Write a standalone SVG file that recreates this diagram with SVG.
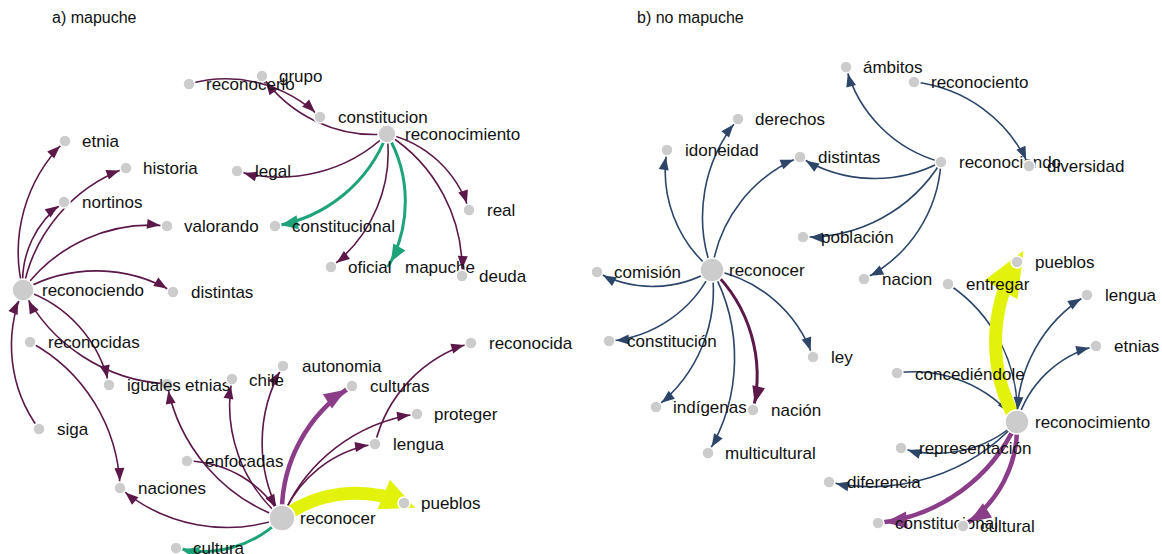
<svg xmlns="http://www.w3.org/2000/svg" width="1162" height="554" viewBox="0 0 1162 554">
  <style>
    .title { font-family: "Liberation Sans", Arial, sans-serif; font-size: 16px; fill: #111; }
    .n circle { fill: #cccccc; stroke: #ffffff; stroke-width: 1.5; }
    .n text { font-family: "Liberation Sans", Arial, sans-serif; font-size: 17px; fill: #111111; }
    .links path { fill: none; }
    .pt { stroke: #5b1849; stroke-width: 1.6; }
    .bt { stroke: #2c4569; stroke-width: 1.6; }
    .gr { stroke: #1fa37b; stroke-width: 3; }
    .pk { stroke: #8b3d8a; stroke-width: 4.5; }
    .pm { stroke: #5b1849; stroke-width: 3; }
    .ye { stroke: #e3f20b; stroke-width: 13; }
  </style>
  <defs>
    <marker id="m-pt" markerUnits="userSpaceOnUse" markerWidth="14" markerHeight="12" refX="20" refY="0" orient="auto" overflow="visible"><path d="M0,-5L13,0L0,5Z" fill="#5b1849"/></marker>
    <marker id="m-ptb" markerUnits="userSpaceOnUse" markerWidth="14" markerHeight="12" refX="25" refY="0" orient="auto" overflow="visible"><path d="M0,-5L13,0L0,5Z" fill="#5b1849"/></marker>
    <marker id="m-bt" markerUnits="userSpaceOnUse" markerWidth="14" markerHeight="12" refX="20" refY="0" orient="auto" overflow="visible"><path d="M0,-5L13,0L0,5Z" fill="#2c4569"/></marker>
    <marker id="m-btb" markerUnits="userSpaceOnUse" markerWidth="14" markerHeight="12" refX="25" refY="0" orient="auto" overflow="visible"><path d="M0,-5L13,0L0,5Z" fill="#2c4569"/></marker>
    <marker id="m-gr" markerUnits="userSpaceOnUse" markerWidth="18" markerHeight="16" refX="23" refY="0" orient="auto" overflow="visible"><path d="M0,-7L17,0L0,7Z" fill="#1fa37b"/></marker>
    <marker id="m-pk" markerUnits="userSpaceOnUse" markerWidth="22" markerHeight="18" refX="29" refY="0" orient="auto" overflow="visible"><path d="M0,-8.5L22,0L0,8.5Z" fill="#8b3d8a"/></marker>
    <marker id="m-pm" markerUnits="userSpaceOnUse" markerWidth="18" markerHeight="14" refX="24" refY="0" orient="auto" overflow="visible"><path d="M0,-6.5L17,0L0,6.5Z" fill="#5b1849"/></marker>
    <marker id="m-ye" markerUnits="userSpaceOnUse" markerWidth="34" markerHeight="32" refX="22" refY="0" orient="auto" overflow="visible"><path d="M0,-16L34,0L0,16Z" fill="#e3f20b"/></marker>
    <marker id="m-yeb" markerUnits="userSpaceOnUse" markerWidth="46" markerHeight="40" refX="32" refY="0" orient="auto" overflow="visible"><path d="M0,-19L45,0L0,19Z" fill="#e3f20b"/></marker>
  </defs>

  <rect width="1162" height="554" fill="#ffffff"/>

  <text class="title" x="52" y="23">a) mapuche</text>
  <text class="title" x="637" y="23">b) no mapuche</text>

  <!-- connectors: arcs from source to target -->
  <g id="links" class="links">
    <!-- panel a -->
    <path class="pt" marker-end="url(#m-pt)" d="M189,84 A135,135 0 0,1 320,117"/>
    <path class="pt" marker-end="url(#m-pt)" d="M387,134 A138,138 0 0,1 262,76"/>
    <path class="pt" marker-end="url(#m-pt)" d="M387,134 A154.5,154.5 0 0,1 237,171"/>
    <path class="gr" marker-end="url(#m-gr)" d="M387,134 A145,145 0 0,1 275,226"/>
    <path class="pt" marker-end="url(#m-pt)" d="M387,134 A144,144 0 0,1 331,267"/>
    <path class="gr" marker-end="url(#m-gr)" d="M387,134 A133,133 0 0,1 388,267"/>
    <path class="pt" marker-end="url(#m-pt)" d="M387,134 A112,112 0 0,1 469,210"/>
    <path class="pt" marker-end="url(#m-pt)" d="M387,134 A160.6,160.6 0 0,1 462,276"/>
    <path class="pt" marker-end="url(#m-pt)" d="M23,290 A155,155 0 0,1 65,141"/>
    <path class="pt" marker-end="url(#m-pt)" d="M23,290 A160,160 0 0,1 126,168"/>
    <path class="pt" marker-end="url(#m-pt)" d="M23,290 A97,97 0 0,1 64,202"/>
    <path class="pt" marker-end="url(#m-pt)" d="M23,290 A157.6,157.6 0 0,1 167,226"/>
    <path class="pt" marker-end="url(#m-pt)" d="M23,290 A150,150 0 0,1 173,292"/>
    <path class="pt" marker-end="url(#m-pt)" d="M23,290 A128,128 0 0,1 109,385"/>
    <path class="pt" marker-end="url(#m-ptb)" d="M167,384 A172,172 0 0,1 23,290"/>
    <path class="pt" marker-end="url(#m-ptb)" d="M39,429 A140,140 0 0,1 23,290"/>
    <path class="pt" marker-end="url(#m-pt)" d="M30,342 A171.5,171.5 0 0,1 120,488"/>
    <path class="pt" marker-end="url(#m-pt)" d="M282,518 A164.8,164.8 0 0,1 120,488"/>
    <path class="pt" marker-end="url(#m-pt)" d="M282,518 A176.6,176.6 0 0,1 167,384"/>
    <path class="pt" marker-end="url(#m-pt)" d="M282,518 A147.7,147.7 0 0,1 232,379"/>
    <path class="pt" marker-end="url(#m-pt)" d="M282,518 A152,152 0 0,1 283,366"/>
    <path class="pt" marker-end="url(#m-ptb)" d="M187,461 A110.8,110.8 0 0,1 282,518"/>
    <path class="pk" marker-end="url(#m-pk)" d="M282,518 A149.4,149.4 0 0,1 352,386"/>
    <path class="pt" marker-end="url(#m-pt)" d="M282,518 A118.8,118.8 0 0,1 375,444"/>
    <path class="pt" marker-end="url(#m-pt)" d="M282,518 A170.4,170.4 0 0,1 417,414"/>
    <path class="pt" marker-end="url(#m-pt)" d="M375,444 A139.3,139.3 0 0,1 471,343"/>
    <path class="ye" marker-end="url(#m-ye)" d="M282,518 A123,123 0 0,1 404,503"/>
    <path class="gr" marker-end="url(#m-gr)" d="M282,518 A110,110 0 0,1 176,548"/>
    <!-- panel b -->
    <path class="bt" marker-end="url(#m-bt)" d="M941,162 A134.4,134.4 0 0,1 846,67"/>
    <path class="bt" marker-end="url(#m-bt)" d="M914,82 A142.4,142.4 0 0,1 1029,166"/>
    <path class="bt" marker-end="url(#m-bt)" d="M941,162 A141,141 0 0,1 800,157"/>
    <path class="bt" marker-end="url(#m-bt)" d="M941,162 A157,157 0 0,1 803,237"/>
    <path class="bt" marker-end="url(#m-bt)" d="M941,162 A140,140 0 0,1 864,279"/>
    <path class="bt" marker-end="url(#m-bt)" d="M712,270 A128,128 0 0,1 667,150"/>
    <path class="bt" marker-end="url(#m-bt)" d="M712,270 A153,153 0 0,1 738,119"/>
    <path class="bt" marker-end="url(#m-bt)" d="M712,270 A143,143 0 0,1 800,157"/>
    <path class="bt" marker-end="url(#m-bt)" d="M712,270 A115,115 0 0,1 597,272"/>
    <path class="bt" marker-end="url(#m-bt)" d="M712,270 A125,125 0 0,1 609,341"/>
    <path class="bt" marker-end="url(#m-bt)" d="M712,270 A148,148 0 0,1 656,407"/>
    <path class="bt" marker-end="url(#m-bt)" d="M712,270 A183,183 0 0,1 708,453"/>
    <path class="pm" marker-end="url(#m-pm)" d="M712,270 A146,146 0 0,1 753,410"/>
    <path class="bt" marker-end="url(#m-bt)" d="M712,270 A133,133 0 0,1 813,357"/>
    <path class="bt" marker-end="url(#m-btb)" d="M948,284 A154,154 0 0,1 1017,422"/>
    <path class="bt" marker-end="url(#m-btb)" d="M897,373 A129.6,129.6 0 0,1 1017,422"/>
    <path class="ye" marker-end="url(#m-yeb)" d="M1017,422 A160,160 0 0,1 1017,262"/>
    <path class="bt" marker-end="url(#m-bt)" d="M1017,422 A145,145 0 0,1 1087,295"/>
    <path class="bt" marker-end="url(#m-bt)" d="M1017,422 A109.6,109.6 0 0,1 1096,346"/>
    <path class="bt" marker-end="url(#m-bt)" d="M1017,422 A119,119 0 0,1 901,448"/>
    <path class="bt" marker-end="url(#m-bt)" d="M1017,422 A197,197 0 0,1 829,482"/>
    <path class="pk" marker-end="url(#m-pk)" d="M1017,422 A171.8,171.8 0 0,1 878,523"/>
    <path class="pk" marker-end="url(#m-pk)" d="M1017,422 A117,117 0 0,1 963,526"/>
  </g>

  <!-- panel a nodes -->
  <g id="a-reconocerlo" class="n"><circle cx="189" cy="84" r="6"/><text x="206" y="90">reconocerlo</text></g>
  <g id="a-grupo" class="n"><circle cx="262" cy="76" r="6"/><text x="279" y="82">grupo</text></g>
  <g id="a-constitucion" class="n"><circle cx="320" cy="117" r="6"/><text x="338" y="123">constitucion</text></g>
  <g id="a-reconocimiento" class="n"><circle cx="387" cy="134" r="9"/><text x="405" y="140">reconocimiento</text></g>
  <g id="a-legal" class="n"><circle cx="237" cy="171" r="6"/><text x="255" y="177">legal</text></g>
  <g id="a-real" class="n"><circle cx="469" cy="210" r="6"/><text x="487" y="216">real</text></g>
  <g id="a-constitucional" class="n"><circle cx="275" cy="226" r="6"/><text x="292" y="232">constitucional</text></g>
  <g id="a-mapuche" class="n"><text x="405" y="273">mapuche</text></g>
  <g id="a-oficial" class="n"><circle cx="331" cy="267" r="6"/><text x="348" y="273">oficial</text></g>
  <g id="a-deuda" class="n"><circle cx="462" cy="276" r="6"/><text x="479" y="282">deuda</text></g>
  <g id="a-etnia" class="n"><circle cx="65" cy="141" r="6"/><text x="82" y="147">etnia</text></g>
  <g id="a-historia" class="n"><circle cx="126" cy="168" r="6"/><text x="143" y="174">historia</text></g>
  <g id="a-nortinos" class="n"><circle cx="64" cy="202" r="6"/><text x="82" y="208">nortinos</text></g>
  <g id="a-valorando" class="n"><circle cx="167" cy="226" r="6"/><text x="184" y="232">valorando</text></g>
  <g id="a-distintas" class="n"><circle cx="173" cy="292" r="6"/><text x="191" y="298">distintas</text></g>
  <g id="a-reconociendo" class="n"><circle cx="23" cy="290" r="11"/><text x="42" y="296">reconociendo</text></g>
  <g id="a-reconocidas" class="n"><circle cx="30" cy="342" r="6"/><text x="48" y="348">reconocidas</text></g>
  <g id="a-etnias" class="n"><circle cx="167" cy="384" r="6"/><text x="185" y="391">etnias</text></g>
  <g id="a-iguales" class="n"><circle cx="109" cy="385" r="6"/><text x="127" y="391">iguales</text></g>
  <g id="a-chile" class="n"><circle cx="232" cy="379" r="6"/><text x="249" y="386">chile</text></g>
  <g id="a-autonomia" class="n"><circle cx="283" cy="366" r="6"/><text x="302" y="372">autonomia</text></g>
  <g id="a-culturas" class="n"><circle cx="352" cy="386" r="6"/><text x="370" y="392">culturas</text></g>
  <g id="a-reconocida" class="n"><circle cx="471" cy="343" r="6"/><text x="489" y="349">reconocida</text></g>
  <g id="a-proteger" class="n"><circle cx="417" cy="414" r="6"/><text x="434" y="420">proteger</text></g>
  <g id="a-lengua" class="n"><circle cx="375" cy="444" r="6"/><text x="393" y="450">lengua</text></g>
  <g id="a-siga" class="n"><circle cx="39" cy="429" r="6"/><text x="57" y="435">siga</text></g>
  <g id="a-enfocadas" class="n"><circle cx="187" cy="461" r="6"/><text x="205" y="467">enfocadas</text></g>
  <g id="a-naciones" class="n"><circle cx="120" cy="488" r="6"/><text x="138" y="494">naciones</text></g>
  <g id="a-pueblos" class="n"><circle cx="404" cy="503" r="6"/><text x="421" y="509">pueblos</text></g>
  <g id="a-reconocer" class="n"><circle cx="282" cy="518" r="13"/><text x="300" y="524">reconocer</text></g>
  <g id="a-cultura" class="n"><circle cx="176" cy="548" r="6"/><text x="193" y="554">cultura</text></g>

  <!-- panel b nodes -->
  <g id="b-ambitos" class="n"><circle cx="846" cy="67" r="6"/><text x="863" y="73">ámbitos</text></g>
  <g id="b-reconociento" class="n"><circle cx="914" cy="82" r="6"/><text x="931" y="88">reconociento</text></g>
  <g id="b-derechos" class="n"><circle cx="738" cy="119" r="6"/><text x="755" y="125">derechos</text></g>
  <g id="b-idoneidad" class="n"><circle cx="667" cy="150" r="6"/><text x="685" y="156">idoneidad</text></g>
  <g id="b-distintas" class="n"><circle cx="800" cy="157" r="6"/><text x="818" y="163">distintas</text></g>
  <g id="b-reconociendo" class="n"><circle cx="941" cy="162" r="6"/><text x="959" y="168">reconociendo</text></g>
  <g id="b-diversidad" class="n"><circle cx="1029" cy="166" r="6"/><text x="1047" y="172">diversidad</text></g>
  <g id="b-poblacion" class="n"><circle cx="803" cy="237" r="6"/><text x="821" y="243">población</text></g>
  <g id="b-comision" class="n"><circle cx="597" cy="272" r="6"/><text x="614" y="278">comisión</text></g>
  <g id="b-reconocer" class="n"><circle cx="712" cy="270" r="12"/><text x="729" y="276">reconocer</text></g>
  <g id="b-nacion" class="n"><circle cx="864" cy="279" r="6"/><text x="882" y="285">nacion</text></g>
  <g id="b-entregar" class="n"><circle cx="948" cy="284" r="6"/><text x="966" y="290">entregar</text></g>
  <g id="b-pueblos" class="n"><circle cx="1017" cy="262" r="6"/><text x="1035" y="268">pueblos</text></g>
  <g id="b-lengua" class="n"><circle cx="1087" cy="295" r="6"/><text x="1105" y="301">lengua</text></g>
  <g id="b-etnias" class="n"><circle cx="1096" cy="346" r="6"/><text x="1114" y="352">etnias</text></g>
  <g id="b-constitucion" class="n"><circle cx="609" cy="341" r="6"/><text x="627" y="347">constitución</text></g>
  <g id="b-ley" class="n"><circle cx="813" cy="357" r="6"/><text x="831" y="363">ley</text></g>
  <g id="b-concediendole" class="n"><circle cx="897" cy="373" r="6"/><text x="915" y="380">concediéndole</text></g>
  <g id="b-indigenas" class="n"><circle cx="656" cy="407" r="6"/><text x="673" y="413">indígenas</text></g>
  <g id="b-nacion2" class="n"><circle cx="753" cy="410" r="6"/><text x="771" y="416">nación</text></g>
  <g id="b-reconocimiento" class="n"><circle cx="1017" cy="422" r="12"/><text x="1035" y="428">reconocimiento</text></g>
  <g id="b-representacion" class="n"><circle cx="901" cy="448" r="6"/><text x="919" y="454">representación</text></g>
  <g id="b-multicultural" class="n"><circle cx="708" cy="453" r="6"/><text x="725" y="459">multicultural</text></g>
  <g id="b-diferencia" class="n"><circle cx="829" cy="482" r="6"/><text x="847" y="488">diferencia</text></g>
  <g id="b-constitucional" class="n"><circle cx="878" cy="523" r="6"/><text x="895" y="529">constitucional</text></g>
  <g id="b-cultural" class="n"><circle cx="963" cy="526" r="6"/><text x="980" y="532">cultural</text></g>
</svg>
